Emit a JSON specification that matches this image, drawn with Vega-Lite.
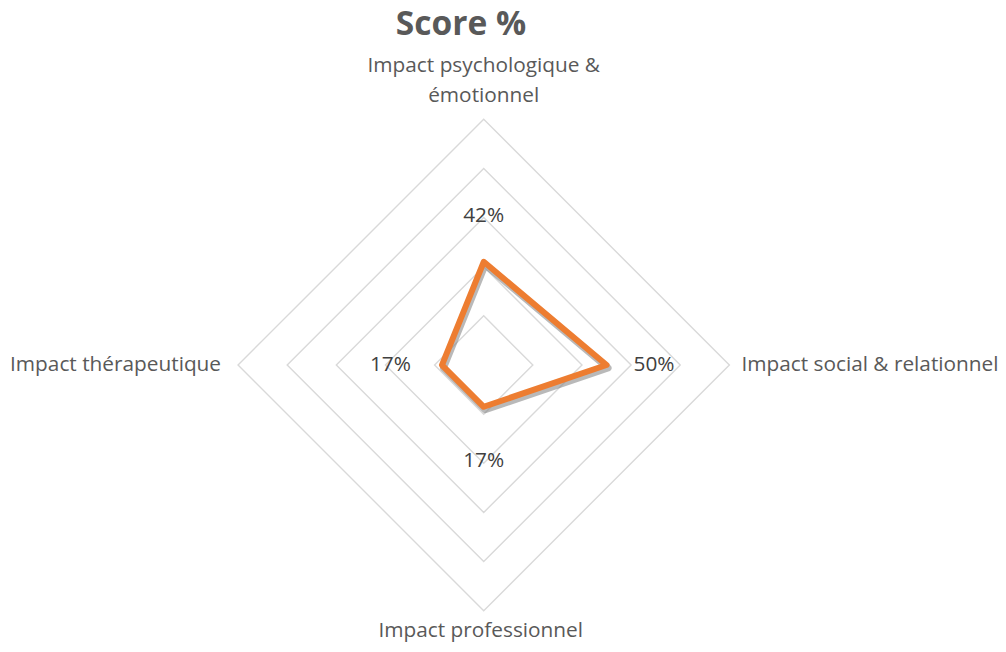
{
  "$schema": "https://vega.github.io/schema/vega-lite/v6.json",
  "width": 1006,
  "height": 602,
  "autosize": {"type": "none"},
  "padding": {"top": 50, "left": 0, "right": 0, "bottom": 0},
  "background": "white",
  "config": {"view": {"stroke": null}},
  "title": {"text": "Score %", "font": "Open Sans", "fontSize": 33.5, "fontWeight": "bold", "color": "#595959", "anchor": "middle", "frame": "group", "dx": -42, "offset": 8},
  "datasets": {
    "scores": [
      {"axe": "Impact psychologique &\némotionnel", "angle": 0, "score": 42},
      {"axe": "Impact social & relationnel", "angle": 90, "score": 50},
      {"axe": "Impact professionnel", "angle": 180, "score": 17},
      {"axe": "Impact thérapeutique", "angle": 270, "score": 17}
    ],
    "rings": [
      {"ring": 20, "angles": [0, 90, 180, 270]},
      {"ring": 40, "angles": [0, 90, 180, 270]},
      {"ring": 60, "angles": [0, 90, 180, 270]},
      {"ring": 80, "angles": [0, 90, 180, 270]},
      {"ring": 100, "angles": [0, 90, 180, 270]}
    ]
  },
  "resolve": {"scale": {"x": "shared", "y": "shared"}},
  "layer": [
    {
      "data": {"name": "rings"},
      "transform": [
        {"flatten": ["angles"], "as": ["angle"]},
        {"calculate": "datum.ring*sin(datum.angle*PI/180)", "as": "x"},
        {"calculate": "datum.ring*cos(datum.angle*PI/180)", "as": "y"}
      ],
      "mark": {"type": "line", "interpolate": "linear-closed", "stroke": "#D9D9D9", "strokeWidth": 1.4},
      "encoding": {
        "x": {"field": "x", "type": "quantitative", "scale": {"domain": [-196.9, 212.6], "nice": false, "zero": false}, "axis": null},
        "y": {"field": "y", "type": "quantitative", "scale": {"domain": [-116.8, 128.2], "nice": false, "zero": false}, "axis": null},
        "detail": {"field": "ring", "type": "nominal"},
        "order": {"field": "angle", "type": "quantitative"}
      }
    },
    {
      "data": {"name": "scores"},
      "transform": [
        {"calculate": "datum.score*sin(datum.angle*PI/180)", "as": "px"},
        {"calculate": "datum.score*cos(datum.angle*PI/180)", "as": "py"},
        {"calculate": "100*sin(datum.angle*PI/180)", "as": "gx"},
        {"calculate": "100*cos(datum.angle*PI/180)", "as": "gy"},
        {"calculate": "datum.score + '%'", "as": "etiquette"}
      ],
      "layer": [
        {
          "mark": {"type": "line", "interpolate": "linear-closed", "stroke": "#7F7F7F", "strokeWidth": 7, "opacity": 0.55, "strokeJoin": "round", "yOffset": 3, "xOffset": 1.5},
          "encoding": {
            "x": {"field": "px", "type": "quantitative", "axis": null},
            "y": {"field": "py", "type": "quantitative", "axis": null},
            "order": {"field": "angle", "type": "quantitative"}
          }
        },
        {
          "mark": {"type": "line", "interpolate": "linear-closed", "stroke": "#ED7D31", "strokeWidth": 6, "strokeJoin": "round"},
          "encoding": {
            "x": {"field": "px", "type": "quantitative", "axis": null},
            "y": {"field": "py", "type": "quantitative", "axis": null},
            "order": {"field": "angle", "type": "quantitative"}
          }
        },
        {
          "transform": [{"filter": "datum.angle == 0"}],
          "mark": {"type": "text", "font": "Open Sans", "fontSize": 20.8, "color": "#595959", "align": "center", "baseline": "alphabetic", "lineBreak": "\n", "lineHeight": 30, "dy": -47},
          "encoding": {
            "x": {"field": "gx", "type": "quantitative", "axis": null},
            "y": {"field": "gy", "type": "quantitative", "axis": null},
            "text": {"field": "axe"}
          }
        },
        {
          "transform": [{"filter": "datum.angle == 90"}],
          "mark": {"type": "text", "font": "Open Sans", "fontSize": 20.8, "color": "#595959", "align": "left", "baseline": "middle", "dx": 12},
          "encoding": {
            "x": {"field": "gx", "type": "quantitative", "axis": null},
            "y": {"field": "gy", "type": "quantitative", "axis": null},
            "text": {"field": "axe"}
          }
        },
        {
          "transform": [{"filter": "datum.angle == 180"}],
          "mark": {"type": "text", "font": "Open Sans", "fontSize": 20.8, "color": "#595959", "align": "center", "baseline": "top", "dy": 10, "dx": -3},
          "encoding": {
            "x": {"field": "gx", "type": "quantitative", "axis": null},
            "y": {"field": "gy", "type": "quantitative", "axis": null},
            "text": {"field": "axe"}
          }
        },
        {
          "transform": [{"filter": "datum.angle == 270"}],
          "mark": {"type": "text", "font": "Open Sans", "fontSize": 20.8, "color": "#595959", "align": "right", "baseline": "middle", "dx": -17},
          "encoding": {
            "x": {"field": "gx", "type": "quantitative", "axis": null},
            "y": {"field": "gy", "type": "quantitative", "axis": null},
            "text": {"field": "axe"}
          }
        },
        {
          "transform": [{"filter": "datum.angle == 0"}],
          "mark": {"type": "text", "font": "Open Sans", "fontSize": 20.8, "color": "#404040", "align": "center", "baseline": "alphabetic", "dy": -40},
          "encoding": {
            "x": {"field": "px", "type": "quantitative", "axis": null},
            "y": {"field": "py", "type": "quantitative", "axis": null},
            "text": {"field": "etiquette"}
          }
        },
        {
          "transform": [{"filter": "datum.angle == 90"}],
          "mark": {"type": "text", "font": "Open Sans", "fontSize": 20.8, "color": "#404040", "align": "left", "baseline": "middle", "dx": 27},
          "encoding": {
            "x": {"field": "px", "type": "quantitative", "axis": null},
            "y": {"field": "py", "type": "quantitative", "axis": null},
            "text": {"field": "etiquette"}
          }
        },
        {
          "transform": [{"filter": "datum.angle == 180"}],
          "mark": {"type": "text", "font": "Open Sans", "fontSize": 20.8, "color": "#404040", "align": "center", "baseline": "alphabetic", "dy": 60},
          "encoding": {
            "x": {"field": "px", "type": "quantitative", "axis": null},
            "y": {"field": "py", "type": "quantitative", "axis": null},
            "text": {"field": "etiquette"}
          }
        },
        {
          "transform": [{"filter": "datum.angle == 270"}],
          "mark": {"type": "text", "font": "Open Sans", "fontSize": 20.8, "color": "#404040", "align": "right", "baseline": "middle", "dx": -31},
          "encoding": {
            "x": {"field": "px", "type": "quantitative", "axis": null},
            "y": {"field": "py", "type": "quantitative", "axis": null},
            "text": {"field": "etiquette"}
          }
        }
      ]
    }
  ]
}
